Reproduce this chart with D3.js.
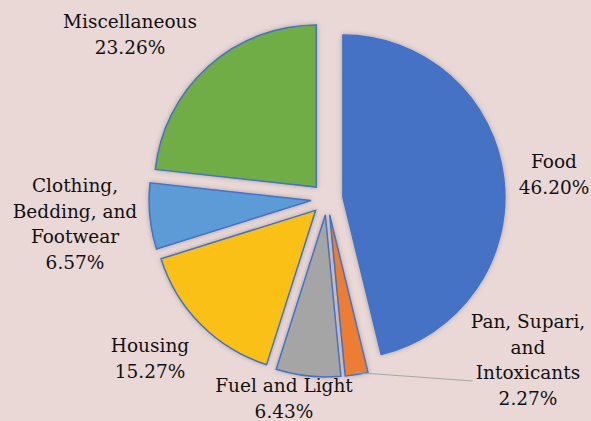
<!DOCTYPE html>
<html>
<head>
<meta charset="utf-8">
<script src="https://cdn.jsdelivr.net/npm/d3@7"></script>
<style>
  html, body { margin: 0; padding: 0; background: #E9D8D6; }
  svg { display: block; }
  .lbl { font-family: "DejaVu Serif", "Liberation Serif", serif; font-size: 18.5px; fill: #111; }
</style>
</head>
<body>
<div id="chart"></div>
<script>
// categories, in drawing order (clockwise from 12 o'clock)
const categories = ["Food", "Pan, Supari, and Intoxicants", "Fuel and Light", "Housing", "Clothing, Bedding, and Footwear", "Miscellaneous"];
const shares = [46.20, 2.27, 6.43, 15.27, 6.57, 23.26];
const labelLines = [
  ["Food"],
  ["Pan, Supari,", "and", "Intoxicants"],
  ["Fuel and Light"],
  ["Housing"],
  ["Clothing,", "Bedding, and", "Footwear"],
  ["Miscellaneous"]
];
const colors = ["#4472C4", "#ED7D31", "#A5A5A5", "#FBC012", "#5B9BD5", "#70AD47"];

const width = 591, height = 421;
const cx = 327, cy = 199, radius = 162, explode = 16;
const lineH = 25.5;

// where each label block sits (centre x, first baseline y)
const labelPos = [[554, 168], [528, 328], [284, 392], [150, 352], [75, 192], [130, 28]];

const svg = d3.select("#chart").append("svg")
    .attr("width", width)
    .attr("height", height);

const defs = svg.append("defs");
const f = defs.append("filter").attr("id", "shadow")
    .attr("x", "-20%").attr("y", "-20%").attr("width", "140%").attr("height", "140%");
f.append("feDropShadow").attr("dx", 0).attr("dy", 0).attr("stdDeviation", 2.5)
    .attr("flood-color", "#000").attr("flood-opacity", 0.25);

const pie = d3.pie().sort(null).value(d => d);
const arcs = pie(shares);
const arc = d3.arc().innerRadius(0).outerRadius(radius);

const g = svg.append("g").attr("transform", "translate(" + cx + "," + cy + ")");

//offset each slice along its bisector
function shift(d){
    let mid = (d.startAngle + d.endAngle) / 2;
    return [Math.sin(mid) * explode, -Math.cos(mid) * explode];
}

g.selectAll(".slice").data(arcs)
    .enter().append("path")
    .attr("class", "slice")
    .attr("transform", d => "translate(" + shift(d) + ")")
    .attr("d", arc)
    .attr("fill", (d, i) => colors[i])
    .attr("stroke", "#4472C4")
    .attr("stroke-width", 1.5)
    .attr("stroke-linejoin", "miter")
    .attr("filter", "url(#shadow)");

// labels
const labels = svg.selectAll(".lbl").data(arcs)
    .enter().append("text")
    .attr("class", "lbl")
    .attr("text-anchor", "middle");

labels.each(function(d, i){
    let t = d3.select(this);
    let lines = labelLines[i].concat([shares[i].toFixed(2) + "%"]);
    lines.forEach((line, k) => {
        t.append("tspan")
            .attr("x", labelPos[i][0])
            .attr("y", labelPos[i][1] + k * lineH)
            .text(line);
    });
});

// leader line for the small Pan slice
const pan = arcs[1];
const pmid = (pan.startAngle + pan.endAngle) / 2;
const ps = shift(pan);
const startX = cx + ps[0] + Math.sin(pmid) * (radius - 2);
const startY = cy + ps[1] - Math.cos(pmid) * (radius - 2);
const target = labels.filter((d, i) => i === 1).selectAll("tspan").filter((d, k) => k === 2).node();
const bb = target.getBBox();
svg.append("line")
    .attr("x1", startX).attr("y1", startY)
    .attr("x2", bb.x - 3).attr("y2", labelPos[1][1] + 2 * lineH + 2)
    .attr("stroke", "#A6A6A6")
    .attr("stroke-width", 1);
</script>
</body>
</html>
